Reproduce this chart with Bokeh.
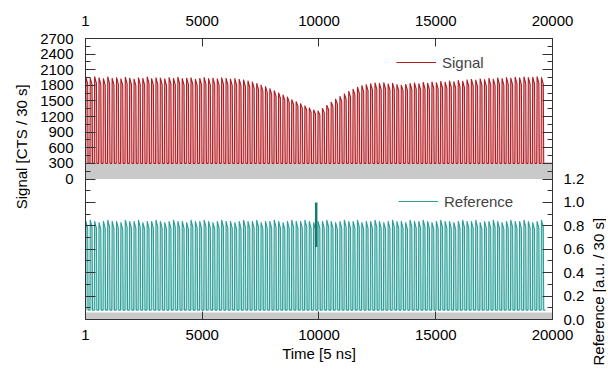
import math
from bokeh.plotting import figure
from bokeh.layouts import row
from bokeh.models import (Range1d, LinearAxis, FixedTicker, CustomJSTickFormatter,
                          Legend, LegendItem, Label)
from bokeh.embed import file_html
from bokeh.resources import INLINE

# ---------------- data ----------------
time_start = 1
time_end = 20000
pulse_count = 105
pulse_period = 187.6          # time units per pulse

signal_peaks = [1960, 1945, 1970, 1950, 1935, 1965, 1940, 1955, 1930, 1960,
                1945, 1925, 1950, 1940, 1965, 1935, 1950, 1945, 1930, 1955,
                1940, 1960, 1935, 1945, 1950, 1925, 1940, 1955, 1935, 1945,
                1930, 1950, 1940, 1925, 1935,
                1920, 1910, 1890, 1870, 1840, 1810, 1780, 1740, 1700, 1660,
                1620, 1580, 1530, 1490, 1450, 1410, 1370, 1330, 1310, 1360,
                1420, 1480, 1540, 1590, 1640, 1690, 1730, 1770, 1800, 1820,
                1835, 1850, 1840, 1855, 1830, 1845, 1820, 1810, 1825, 1840,
                1850, 1835, 1860, 1845, 1870, 1855, 1880, 1865, 1890, 1875,
                1900, 1885, 1910, 1920, 1905, 1930, 1915, 1940, 1925, 1950,
                1935, 1955, 1945, 1960, 1950, 1965, 1955, 1960, 1970, 1955]
signal_trough = 300
signal_band = 300

reference_peaks = [0.84, 0.85, 0.84, 0.83, 0.84, 0.85, 0.84, 0.84, 0.83, 0.85,
                   0.84, 0.84, 0.85, 0.83, 0.84, 0.84, 0.85, 0.84, 0.83, 0.84,
                   0.85, 0.84, 0.84, 0.83, 0.85, 0.84, 0.84, 0.85, 0.84, 0.83,
                   0.84, 0.85, 0.84, 0.84, 0.83, 0.84, 0.85, 0.84, 0.84, 0.85,
                   0.83, 0.84, 0.84, 0.85, 0.84, 0.83, 0.84, 0.85, 0.84, 0.84,
                   0.85, 0.84, 0.83, 0.84, 0.84, 0.85, 0.84, 0.83, 0.84, 0.85,
                   0.84, 0.84, 0.85, 0.83, 0.84, 0.84, 0.85, 0.84, 0.83, 0.84,
                   0.85, 0.84, 0.84, 0.83, 0.85, 0.84, 0.84, 0.85, 0.84, 0.83,
                   0.84, 0.85, 0.84, 0.84, 0.83, 0.84, 0.85, 0.84, 0.84, 0.85,
                   0.83, 0.84, 0.84, 0.85, 0.84, 0.83, 0.84, 0.85, 0.84, 0.84,
                   0.85, 0.84, 0.83, 0.84, 0.85]
reference_trough = 0.08
reference_band = 0.06
spike_time = [9880, 9880]
spike_value = [0.62, 1.0]

x_ticks = [1, 5000, 10000, 15000, 20000]
signal_ticks = [0, 300, 600, 900, 1200, 1500, 1800, 2100, 2400, 2700]
signal_minor = [150 * k for k in range(19)]
reference_ticks = [0.0, 0.2, 0.4, 0.6, 0.8, 1.0, 1.2]
reference_minor = [0.1 * k for k in range(13)]

SIG_LO, SIG_HI = -2700, 2700
REF_LO, REF_HI = 0.0, 2.4

# ---------------- pulse traces built from the per-pulse values ----------------
def pulses(peaks, trough):
    xs, ys = [], []
    for i, pk in enumerate(peaks):
        t0 = time_start + i * pulse_period
        xs += [t0, t0 + 0.08 * pulse_period, t0 + 0.5 * pulse_period, t0 + 0.6 * pulse_period]
        ys += [trough, pk, pk - 0.08 * (pk - trough), trough]
    return xs, ys

sx, sy = pulses(signal_peaks, signal_trough)
sx.append(time_end); sy.append(signal_trough)
rx, ry = pulses(reference_peaks, reference_trough)
rx.append(time_start + pulse_count * pulse_period); ry.append(reference_trough)

FONT = "Liberation Sans"
FS = "15px"
TOP, FRAME_H, BOTTOM = 38, 281, 48
FULL_H = TOP + FRAME_H + BOTTOM
LEFT_LBL_W, RIGHT_LBL_W = 30, 18

y_sig = Range1d(SIG_LO, SIG_HI)
y_ref = Range1d(REF_LO, REF_HI)

p = figure(width=55 + 467 + 36, height=FULL_H,
           frame_width=467, frame_height=FRAME_H,
           x_range=Range1d(time_start, time_end), y_range=y_sig,
           output_backend="svg", toolbar_location=None,
           min_border_left=55, min_border_right=36, min_border_top=TOP,
           min_border_bottom=BOTTOM, x_axis_location=None, y_axis_location=None)
p.extra_y_ranges = {"ref": y_ref}
p.grid.visible = False
p.outline_line_color = "#333333"

# gray bands
p.varea(x=[time_start, time_end], y1=[0, 0], y2=[signal_band, signal_band],
        fill_color="#c9c9c9")
p.varea(x=[time_start, time_end], y1=[0, 0], y2=[reference_band, reference_band],
        fill_color="#c9c9c9", y_range_name="ref")

# signal
p.varea(x=sx, y1=[signal_trough] * len(sx), y2=sy, fill_color="#e4a3a5", fill_alpha=0.85)
sig_line = p.line(sx, sy, line_color="#b01c22", line_width=1.1)

# reference
p.varea(x=rx, y1=[reference_trough] * len(rx), y2=ry, fill_color="#a6d8d4",
        fill_alpha=0.85, y_range_name="ref")
ref_line = p.line(rx, ry, line_color="#2b9e98", line_width=1.1, y_range_name="ref")
p.line(spike_time, spike_value, line_color="#167a74", line_width=2.5, y_range_name="ref")

# ---------------- axes ----------------
def ref_to_sig(r):
    return SIG_LO + (r - REF_LO) * (SIG_HI - SIG_LO) / (REF_HI - REF_LO)

def sig_to_ref(s):
    return REF_LO + (s - SIG_LO) * (REF_HI - REF_LO) / (SIG_HI - SIG_LO)

def style(ax, standoff):
    ax.major_tick_in = 10
    ax.major_tick_out = 0
    ax.minor_tick_in = 5
    ax.minor_tick_out = 0
    ax.axis_line_color = "#333333"
    ax.major_tick_line_color = "#333333"
    ax.minor_tick_line_color = "#333333"
    ax.major_label_text_font = FONT
    ax.major_label_text_font_size = FS
    ax.major_label_text_color = "black"
    ax.major_label_standoff = standoff
    ax.axis_label_text_font = FONT
    ax.axis_label_text_font_size = FS
    ax.axis_label_text_font_style = "normal"
    ax.axis_label_text_color = "black"

left = LinearAxis(ticker=FixedTicker(
    ticks=signal_ticks + [ref_to_sig(r) for r in reference_ticks[1:-1]],
    minor_ticks=signal_minor + [ref_to_sig(r) for r in reference_minor]),
    formatter=CustomJSTickFormatter(code="return tick < -0.5 ? '' : tick.toFixed(0);"))
style(left, 12)
p.add_layout(left, "left")

right = LinearAxis(y_range_name="ref", ticker=FixedTicker(
    ticks=reference_ticks + [sig_to_ref(s) for s in signal_ticks[1:]],
    minor_ticks=reference_minor + [sig_to_ref(s) for s in signal_minor]),
    formatter=CustomJSTickFormatter(code="return tick > 1.2001 ? '' : tick.toFixed(1);"))
style(right, 11)
p.add_layout(right, "right")

top = LinearAxis(ticker=FixedTicker(ticks=x_ticks, minor_ticks=[]))
style(top, 13)
top.major_tick_in = 8
p.add_layout(top, "above")

bottom = LinearAxis(ticker=FixedTicker(ticks=x_ticks, minor_ticks=[]),
                    axis_label="Time [5 ns]")
style(bottom, 10)
bottom.major_tick_in = 8
bottom.axis_label_standoff = 2
p.add_layout(bottom, "below")

# legends
for item, loc in ((LegendItem(label="Signal", renderers=[sig_line]), (311, 247)),
                  (LegendItem(label="Reference", renderers=[ref_line]), (313, 108))):
    lg = Legend(items=[item], location=loc, glyph_width=40, glyph_height=20,
                label_standoff=6, padding=0, margin=0, border_line_color=None,
                background_fill_alpha=0, label_text_font=FONT, label_text_font_size=FS)
    p.add_layout(lg)

# ---------------- side strips carrying the two y-axis titles ----------------
def full_height_range(lo, hi):
    per_px = (hi - lo) / FRAME_H
    return Range1d(lo - BOTTOM * per_px, hi + TOP * per_px), per_px

def title_strip(width, y_range, text, x_frac, y_val, align):
    f = figure(width=width, height=FULL_H, frame_width=width, frame_height=FULL_H,
               x_range=Range1d(0, 1), y_range=y_range,
               output_backend="svg", toolbar_location=None,
               min_border_left=0, min_border_right=0, min_border_top=0,
               min_border_bottom=0, x_axis_location=None, y_axis_location=None)
    f.grid.visible = False
    f.outline_line_color = None
    f.add_layout(Label(x=x_frac, y=y_val, text=text, angle=math.pi / 2,
                       text_align=align, text_baseline="middle",
                       text_font=FONT, text_font_size=FS, text_color="black"))
    return f

sig_strip_range, _ = full_height_range(SIG_LO, SIG_HI)
ref_strip_range, ref_px = full_height_range(REF_LO, REF_HI)
left_strip = title_strip(LEFT_LBL_W, sig_strip_range, "Signal [CTS / 30 s]", 0.7,
                         (signal_ticks[0] + signal_ticks[-1]) / 2, "center")
# the right title starts just below the 0.0 tick and runs upwards
right_strip = title_strip(RIGHT_LBL_W, ref_strip_range, "Reference [a.u. / 30 s]", 0.55,
                          reference_ticks[0] - 8 * ref_px, "left")

layout = row(left_strip, p, right_strip)
open("out.html", "w").write(file_html(layout, INLINE))
